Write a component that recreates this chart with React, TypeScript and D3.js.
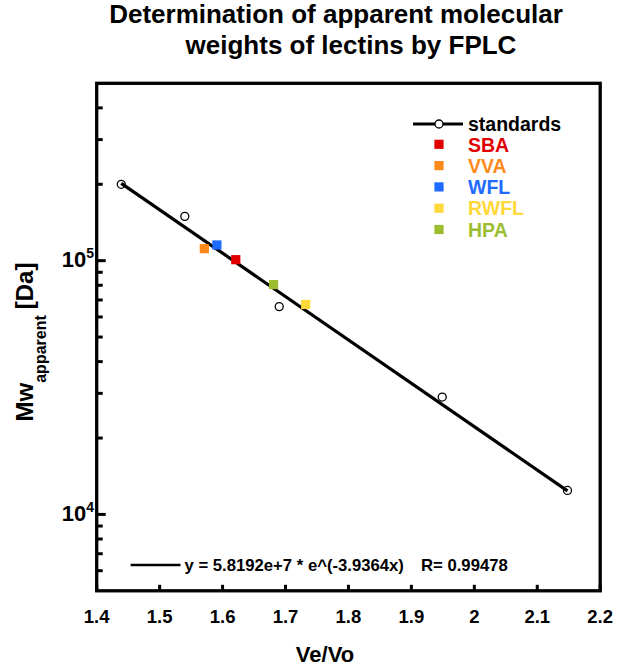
import React from "react";
import * as d3 from "d3";

// ---- data ----
const standardsX = [1.439, 1.54, 1.69, 1.949, 2.148];
const standardsY = [200000, 149500, 65900, 29000, 12430];

const lectinNames = ["SBA", "VVA", "WFL", "RWFL", "HPA"];
const lectinX = [1.621, 1.571, 1.591, 1.732, 1.681];
const lectinY = [100900, 111500, 115300, 67200, 80500];
const lectinColors = ["#e00000", "#ff8a1c", "#1f6bff", "#ffd83a", "#9bbd2f"];

const fitA = 5.8192e7;
const fitK = -3.9364;
const fitR = 0.99478;
const fitXRange = [1.439, 2.148];

const xTickValues = [1.4, 1.5, 1.6, 1.7, 1.8, 1.9, 2.0, 2.1, 2.2];
const yMajorTicks = [1e4, 1e5];
const yMinorTicks = [6000, 7000, 8000, 9000, 20000, 30000, 40000, 50000, 60000, 70000, 80000, 90000, 200000, 300000, 400000];

const titleLines = ["Determination of apparent molecular", "weights of lectins by FPLC"];

const FONT = "'Liberation Sans', Arial, Helvetica, sans-serif";

export default function App() {
  const W = 618;
  const H = 670;
  const left = 96.7, right = 600.2, top = 83.3, bottom = 590.8;

  const x = d3.scaleLinear().domain([1.4, 2.2]).range([left, right]);
  const y = d3.scaleLog().domain([5000, 500000]).range([bottom, top]);

  const fitLine = d3
    .line<number>()
    .x((v) => x(v))
    .y((v) => y(fitA * Math.exp(fitK * v)));

  const legendX = 413;
  const legendRow0 = 124;
  const rowH = 21.3;

  return (
    <div style={{ position: "absolute", left: 0, top: 0, width: W, height: H, background: "#fff" }}>
      <svg width={W} height={H} style={{ display: "block" }} fontFamily={FONT}>
        <rect x={0} y={0} width={W} height={H} fill="#fff" />
        {/* title */}
        <text x={336} y={23} textAnchor="middle" fontSize={26} fontWeight="bold" fill="#000">
          {titleLines[0]}
        </text>
        <text x={351} y={54} textAnchor="middle" fontSize={26} fontWeight="bold" fill="#000">
          {titleLines[1]}
        </text>

        {/* x ticks */}
        {xTickValues.map((v) => (
          <g key={"xt" + v}>
            <line x1={x(v)} x2={x(v)} y1={bottom} y2={bottom - 6} stroke="#000" strokeWidth={3} />
            <text x={x(v)} y={623} textAnchor="middle" fontSize={18.5} fontWeight="bold" fill="#000">
              {String(+v.toFixed(1))}
            </text>
          </g>
        ))}

        {/* y ticks */}
        {yMinorTicks.map((v) => (
          <line key={"ym" + v} x1={left} x2={left + 6} y1={y(v)} y2={y(v)} stroke="#000" strokeWidth={3} />
        ))}
        {yMajorTicks.map((v) => (
          <g key={"yM" + v}>
            <line x1={left} x2={left + 9} y1={y(v)} y2={y(v)} stroke="#000" strokeWidth={3} />
            <text x={94} y={y(v) + 6.5} textAnchor="end" fontSize={22} fontWeight="bold" fill="#000">
              10
              <tspan fontSize={14} dy={-9}>
                {String(Math.round(Math.log10(v)))}
              </tspan>
            </text>
          </g>
        ))}

        {/* frame */}
        <rect x={left} y={top} width={right - left} height={bottom - top} fill="none" stroke="#000" strokeWidth={3.3} />

        {/* fit line */}
        <path d={fitLine(fitXRange) || ""} fill="none" stroke="#000" strokeWidth={3.2} />

        {/* standards */}
        {standardsX.map((v, i) => (
          <circle key={"s" + i} cx={x(v)} cy={y(standardsY[i])} r={4} fill="none" stroke="#000" strokeWidth={1.3} />
        ))}

        {/* lectins */}
        {lectinX.map((v, i) => (
          <rect key={"l" + i} x={x(v) - 4.6} y={y(lectinY[i]) - 4.6} width={9.2} height={9.2} fill={lectinColors[i]} />
        ))}

        {/* legend */}
        <line x1={legendX} x2={legendX + 50} y1={legendRow0} y2={legendRow0} stroke="#000" strokeWidth={3} />
        <circle cx={legendX + 26} cy={legendRow0} r={4} fill="#fff" stroke="#000" strokeWidth={1.3} />
        <text x={468} y={legendRow0 + 7} fontSize={19.5} fontWeight="bold" fill="#000">
          standards
        </text>
        {lectinNames.map((n, i) => {
          const cy = legendRow0 + 20.3 + i * rowH;
          return (
            <g key={"lg" + n}>
              <rect x={legendX + 26 - 4.6} y={cy - 4.6} width={9.2} height={9.2} fill={lectinColors[i]} />
              <text x={468} y={cy + 7.2} fontSize={19.5} fontWeight="bold" fill={lectinColors[i]}>
                {n}
              </text>
            </g>
          );
        })}

        {/* equation */}
        <line x1={130.6} x2={180.5} y1={565} y2={565} stroke="#000" strokeWidth={2.5} />
        <text x={184.5} y={570.5} fontSize={16.7} fontWeight="bold" fill="#000">
          {`y = ${fitA.toExponential(4).replace("e+", "e+")} * e^(${fitK}x)`}
        </text>
        <text x={421} y={570.5} fontSize={16.7} fontWeight="bold" fill="#000">
          {`R= ${fitR}`}
        </text>

        {/* axis titles */}
        <text x={325} y={662} textAnchor="middle" fontSize={22} fontWeight="bold" fill="#000">
          Ve/Vo
        </text>
        <text transform={`translate(33, 342) rotate(-90)`} textAnchor="middle" fontWeight="bold" fill="#000">
          <tspan fontSize={24}>Mw</tspan>
          <tspan fontSize={16} dy={13}>apparent</tspan>
          <tspan fontSize={24} dy={-13} dx={6}>[Da]</tspan>
        </text>
      </svg>
    </div>
  );
}
